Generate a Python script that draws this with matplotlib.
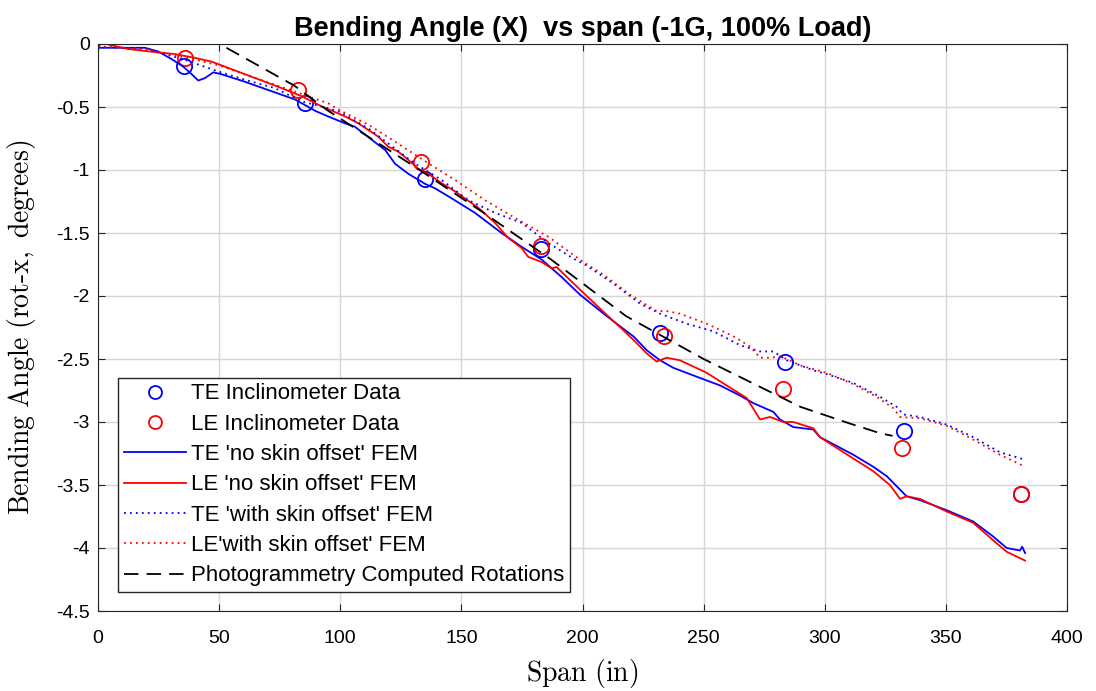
import numpy as np
import matplotlib
matplotlib.use("Agg")
import matplotlib.pyplot as plt

plt.rcParams['font.family'] = ['Liberation Sans', 'DejaVu Sans']
plt.rcParams['mathtext.fontset'] = 'cm'
plt.rcParams['axes.unicode_minus'] = False

# inclinometer readings
te_inc_x = [35.5, 85.4, 135, 183, 232, 283.6, 332.7, 381]
te_inc_y = [-0.175, -0.47, -1.07, -1.63, -2.29, -2.52, -3.07, -3.57]
le_inc_x = [35.9, 82.6, 133.3, 183, 233.6, 282.8, 331.9, 381]
le_inc_y = [-0.11, -0.365, -0.94, -1.60, -2.32, -2.74, -3.21, -3.57]

# FEM, no skin offset
te_fem_x = [0, 10, 19.4, 24.9, 30.4, 35.2, 38.7, 41.4, 44.2, 47.6, 51, 60.7, 71.7, 81.3, 89.6, 95,
            102, 106, 115.7, 118.5, 122.6, 128.1, 135, 139.1, 146, 155.6, 166.6, 174.9, 183.1, 191.4,
            199, 210, 221, 226.5, 232, 237.5, 245.7, 256.8, 265, 270.5, 278.8, 281.5, 287, 295.3,
            298, 311.8, 320, 325.6, 329.7, 333.8, 339.3, 350.3, 361.3, 369.6, 375.1, 380.6, 381.5, 382.7]
te_fem_y = [-0.03, -0.03, -0.03, -0.06, -0.12, -0.18, -0.24, -0.29, -0.27, -0.225, -0.24, -0.30, -0.375, -0.44, -0.53, -0.575,
            -0.63, -0.656, -0.80, -0.84, -0.95, -1.03, -1.11, -1.145, -1.225, -1.34, -1.50, -1.61, -1.71, -1.85,
            -1.99, -2.16, -2.32, -2.43, -2.51, -2.57, -2.63, -2.71, -2.79, -2.85, -2.92, -2.98, -3.04, -3.06,
            -3.12, -3.26, -3.355, -3.43, -3.51, -3.59, -3.62, -3.70, -3.79, -3.91, -4.00, -4.02, -3.99, -4.04]
le_fem_x = [0, 1, 12.5, 26.3, 31.8, 40, 46.9, 53.8, 64.8, 75.8, 84.1, 92.3, 102,
            107.5, 115.7, 119.8, 124, 128.1, 132.2, 136.3, 141.9, 147.4, 157, 163.9, 169.4, 174.9, 177.6,
            183.1, 187.3, 189.3, 194.1, 199, 210, 216.8, 222.4, 226.5, 230.6, 234.7, 240.2, 251.3, 259.5,
            267.8, 273.3, 277.4, 282.9, 287, 295.3, 298, 311.8, 320, 326.9, 331.1, 333.8, 339.3, 350.3,
            361.3, 369.6, 375.1, 382.7]
le_fem_y = [-0.05, 0.01, -0.04, -0.07, -0.08, -0.11, -0.14, -0.19, -0.27, -0.35, -0.415, -0.495, -0.575,
            -0.63, -0.735, -0.815, -0.855, -0.92, -0.99, -1.03, -1.105, -1.17, -1.30, -1.42, -1.54, -1.62, -1.69,
            -1.73, -1.78, -1.77, -1.86, -1.95, -2.15, -2.27, -2.375, -2.455, -2.52, -2.49, -2.51, -2.61, -2.71,
            -2.81, -2.98, -2.96, -3.00, -3.00, -3.05, -3.12, -3.29, -3.39, -3.50, -3.61, -3.59, -3.61, -3.71,
            -3.80, -3.94, -4.03, -4.10]

# FEM, with skin offset
te_skin_x = [0, 20, 35, 50, 60, 73, 84, 95, 100, 111.6, 122.6, 130.9, 141.9, 152.9, 163.9, 174.9, 185.9,
             196.9, 201, 212.7, 223.7, 232, 243, 254, 265, 273.3, 278.8, 284.3, 295.3, 300.8,
             311.8, 322.8, 329.7, 332.4, 339.3, 350.3, 361.3, 372.3, 382.7]
te_skin_y = [-0.02, -0.04, -0.12, -0.22, -0.28, -0.35, -0.455, -0.51, -0.54, -0.67, -0.83, -0.95, -1.08, -1.24, -1.34, -1.42, -1.58,
             -1.71, -1.75, -1.90, -2.06, -2.14, -2.22, -2.28, -2.39, -2.44, -2.44, -2.51, -2.59, -2.62,
             -2.69, -2.80, -2.88, -2.94, -2.96, -3.02, -3.12, -3.24, -3.30]
le_skin_x = [0, 20, 35, 50, 65, 80, 95, 99.2, 111.6, 122.6, 135, 147.4, 159.8, 172.1, 185.9, 200.3,
             208.6, 219.6, 230.6, 234.7, 240.2, 251.3, 262.3, 269.1, 273.3, 277, 282, 289.8, 300.8,
             311.8, 321.4, 328.3, 331.1, 339.3, 350.3, 361.3, 372.3, 382.7]
le_skin_y = [-0.02, -0.04, -0.10, -0.17, -0.27, -0.37, -0.47, -0.52, -0.64, -0.775, -0.93, -1.08, -1.24, -1.38, -1.53, -1.73,
             -1.83, -1.99, -2.12, -2.12, -2.14, -2.22, -2.32, -2.40, -2.49, -2.49, -2.48, -2.55, -2.61,
             -2.70, -2.80, -2.89, -2.96, -2.97, -3.03, -3.14, -3.26, -3.355]

# photogrammetry
photo_x = [53, 81, 95, 132, 160, 187, 218, 250, 290, 310, 323, 328]
photo_y = [-0.03, -0.33, -0.53, -0.99, -1.35, -1.71, -2.16, -2.50, -2.88, -3.01, -3.09, -3.11]

xticks = [0, 50, 100, 150, 200, 250, 300, 350, 400]
yticks = [0, -0.5, -1, -1.5, -2, -2.5, -3, -3.5, -4, -4.5]
ytick_labels = ['0', '-0.5', '-1', '-1.5', '-2', '-2.5', '-3', '-3.5', '-4', '-4.5']

fig = plt.figure(figsize=(10.96, 6.91), dpi=100)
ax = fig.add_axes([98/1096, 1 - 611/691, (1067-98)/1096, (611-44)/691])

ax.plot(te_inc_x, te_inc_y, 'o', color='blue', mfc='none', ms=11, mew=1.3, label='TE Inclinometer Data')
ax.plot(le_inc_x, le_inc_y, 'o', color='red', mfc='none', ms=11, mew=1.3, label='LE Inclinometer Data')
ax.plot(te_fem_x, te_fem_y, '-', color='blue', lw=1.3, label="TE 'no skin offset' FEM")
ax.plot(le_fem_x, le_fem_y, '-', color='red', lw=1.3, label="LE 'no skin offset' FEM")
ax.plot(te_skin_x, te_skin_y, color='blue', lw=1.3, ls=(0, (1, 2.3)), label="TE 'with skin offset' FEM")
ax.plot(le_skin_x, le_skin_y, color='red', lw=1.3, ls=(0, (1, 2.3)), label="LE'with skin offset' FEM")
ax.plot(photo_x, photo_y, color='black', lw=1.3, ls=(0, (8, 4.5)), label='Photogrammetry Computed Rotations')

ax.set_xlim(0, 400)
ax.set_ylim(-4.5, 0)
ax.set_xticks(xticks)
ax.set_yticks(yticks)
ax.set_yticklabels(ytick_labels)
ax.tick_params(labelsize=14, direction='in', length=5, top=True, right=True, color='#262626')
ax.tick_params(axis='x', pad=14)
ax.tick_params(axis='y', pad=6)
ax.grid(True, color='#d6d6d6', lw=1)
ax.set_axisbelow(True)
for s in ax.spines.values():
    s.set_color('#262626')

ax.set_title('Bending Angle (X)  vs span (-1G, 100% Load)', fontsize=19.5, fontweight='bold', pad=6)
ax.set_xlabel(r'$\mathrm{Span\ (in)}$', fontsize=20)
ax.set_ylabel(r'$\mathrm{Bending\ Angle\ (rot\text{-}x,\ degrees)}$', fontsize=20)
ax.xaxis.set_label_coords(0.5, -0.081)
ax.yaxis.set_label_coords(-0.062, 0.5)

leg = ax.legend(loc='lower left', bbox_to_anchor=(0.0206, 0.0335), borderaxespad=0, fontsize=16,
                handlelength=2.8, handletextpad=0.25, labelspacing=0.42, borderpad=0.25,
                markerscale=0.85, fancybox=False, edgecolor='#262626', framealpha=1)
leg.get_frame().set_linewidth(1)

plt.savefig('out.png', dpi=100)
